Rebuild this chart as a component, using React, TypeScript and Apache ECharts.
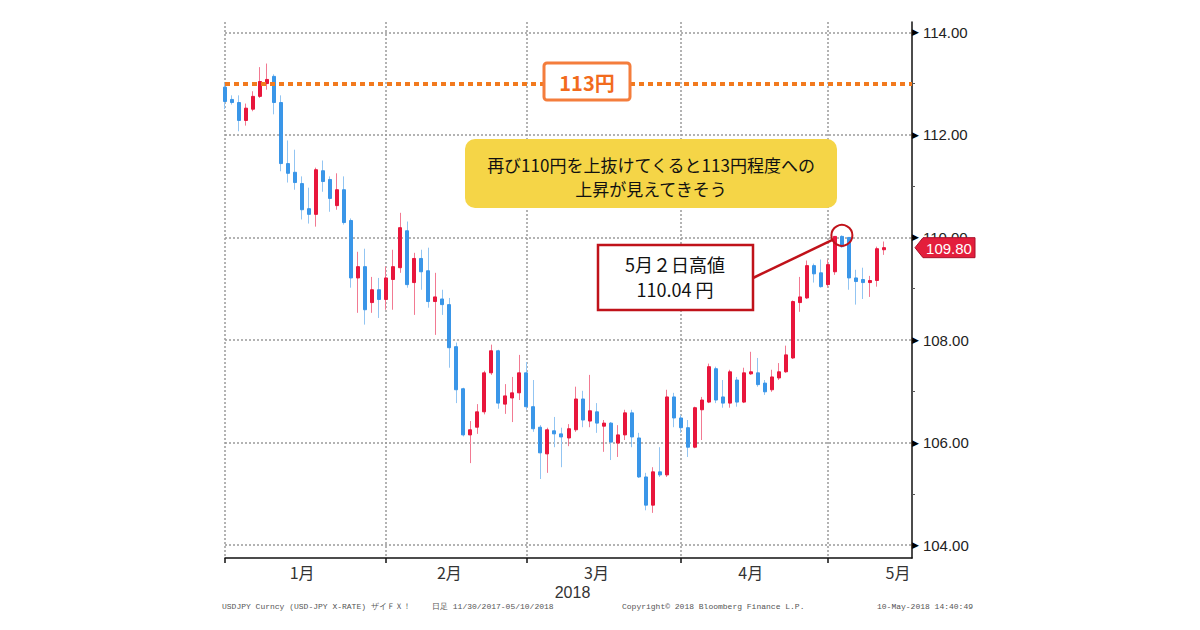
import React, { useEffect, useRef } from "react";
import * as echarts from "echarts";

// ---- categories (weekdays of 2018, by month) ----
const janDays = [1, 2, 3, 4, 5, 8, 9, 10, 11, 12, 15, 16, 17, 18, 19, 22, 23, 24, 25, 26, 29, 30, 31];
const febDays = [1, 2, 5, 6, 7, 8, 9, 12, 13, 14, 15, 16, 19, 20, 21, 22, 23, 26, 27, 28];
const marDays = [1, 2, 5, 6, 7, 8, 9, 12, 13, 14, 15, 16, 19, 20, 21, 22, 23, 26, 27, 28, 29, 30];
const aprDays = [2, 3, 4, 5, 6, 9, 10, 11, 12, 13, 16, 17, 18, 19, 20, 23, 24, 25, 26, 27, 30];
const mayDays = [1, 2, 3, 4, 7, 8, 9, 10, 11, 14, 15, 16, 17];
const monthNames = ["1月", "2月", "3月", "4月", "5月"];
const monthFullWeekdays = [23, 20, 22, 21, 22];

// ---- USD/JPY daily OHLC ----
const openP = [
  112.93, 112.69, 112.63, 112.28, 112.5, 112.75, 113.0, 113.14, 112.63, 111.44,
  111.27, 111.05, 110.56, 110.45, 111.3, 111.13, 110.62, 110.93, 110.33, 109.21,
  109.43, 108.73, 108.98, 108.79, 109.18, 109.41, 110.13, 109.12, 109.59, 109.35,
  108.75, 108.8, 108.69, 107.87, 107.05, 106.15, 106.3, 106.6, 107.36, 107.79,
  106.75, 106.87, 106.97, 107.36, 106.7, 106.3, 105.78, 106.23, 106.17, 106.09,
  106.25, 106.85, 106.42, 106.6, 106.32, 106.38, 105.99, 106.15, 106.58, 106.09,
  105.33, 104.78, 105.43, 105.37, 106.89, 106.48, 106.29, 105.91, 106.64, 106.79,
  107.44, 106.89, 106.77, 107.22, 106.79, 107.34, 107.36, 107.16, 107.03, 107.26,
  107.38, 107.65, 108.73, 108.82, 109.45, 109.31, 109.08, 109.33, 110.02, 110.0,
  109.21, 109.18, 109.12, 109.16, 109.76,
];
const closeP = [
  112.65, 112.63, 112.28, 112.52, 112.75, 113.04, 113.08, 112.63, 111.44, 111.25,
  111.07, 110.54, 110.45, 111.32, 111.09, 110.76, 110.93, 110.29, 109.21, 109.43,
  108.59, 108.98, 108.79, 109.21, 109.43, 110.19, 109.08, 109.59, 109.33, 108.75,
  108.84, 108.69, 107.85, 107.03, 106.15, 106.25, 106.6, 107.36, 107.79, 106.77,
  106.91, 106.97, 107.36, 106.7, 106.27, 105.8, 106.25, 106.17, 106.11, 106.27,
  106.85, 106.44, 106.62, 106.38, 106.38, 106.01, 106.15, 106.58, 106.11, 105.33,
  104.78, 105.43, 105.37, 106.89, 106.48, 106.29, 105.91, 106.68, 106.83, 107.48,
  106.83, 106.77, 107.38, 106.79, 107.36, 107.38, 107.13, 106.99, 107.28, 107.38,
  107.71, 108.75, 108.84, 109.45, 109.29, 109.04, 109.47, 110.02, 109.82, 109.21,
  109.14, 109.12, 109.16, 109.78, 109.8,
];
const lowP = [
  112.5, 112.59, 112.07, 112.18, 112.46, 112.72, 112.88, 112.4, 111.29, 111.07,
  110.93, 110.35, 110.27, 110.21, 110.89, 110.5, 110.54, 110.25, 109.02, 108.53,
  108.3, 108.53, 108.43, 108.59, 108.59, 109.31, 109.02, 108.49, 108.98, 108.63,
  108.1, 108.49, 107.46, 106.77, 106.12, 105.6, 106.17, 106.55, 107.32, 106.66,
  106.56, 106.4, 106.83, 106.64, 106.21, 105.29, 105.41, 105.91, 105.52, 105.93,
  106.21, 106.3, 106.3, 106.19, 105.82, 105.66, 105.72, 106.05, 105.91, 105.31,
  104.68, 104.63, 105.33, 105.33, 106.3, 106.19, 105.72, 105.89, 106.05, 106.77,
  106.77, 106.68, 106.68, 106.7, 106.77, 107.32, 107.09, 106.93, 106.99, 107.22,
  107.36, 107.63, 108.55, 108.8, 109.12, 109.02, 109.02, 109.27, 109.8, 108.98,
  108.69, 108.8, 108.84, 109.04, 109.66,
];
const highP = [
  113.0, 112.77, 112.77, 112.61, 112.85, 113.32, 113.39, 113.18, 112.77, 111.89,
  111.71, 111.19, 110.97, 111.36, 111.5, 111.19, 111.25, 111.19, 110.37, 109.72,
  109.78, 109.23, 109.21, 109.43, 109.76, 110.48, 110.31, 109.7, 109.76, 109.8,
  109.31, 108.98, 108.82, 107.95, 107.07, 106.42, 106.75, 107.4, 107.91, 107.81,
  107.14, 107.28, 107.71, 107.57, 107.22, 106.34, 106.29, 106.5, 106.29, 106.36,
  107.09, 107.01, 107.32, 106.77, 106.44, 106.4, 106.34, 106.64, 106.64, 106.19,
  105.41, 105.52, 105.91, 107.03, 106.97, 106.54, 106.44, 106.7, 106.89, 107.54,
  107.48, 107.22, 107.42, 107.28, 107.46, 107.77, 107.65, 107.22, 107.42, 107.55,
  107.89, 108.77, 109.23, 109.55, 109.49, 109.57, 109.57, 110.02, 110.04, 109.98,
  109.37, 109.41, 109.25, 109.82, 109.92,
];

const yMajorTicks = [104, 106, 108, 110, 112, 114];
const yMinorTicks = [105, 107, 109, 111, 113];
const targetLevel = 113;
const highIndex = 88;
const highValue = 110.04;

const footerLeft = "USDJPY Curncy (USD-JPY X-RATE) ザイＦＸ！";
const footerRange = "日足 11/30/2017-05/10/2018";
const footerCopy = "Copyright© 2018 Bloomberg Finance L.P.";
const footerTime = "10-May-2018 14:40:49";

const UP = "#e8163c";
const DOWN = "#3a96e8";
const UP_WICK = "#f27a92";
const DOWN_WICK = "#93c5f2";
const JP = "'Noto Sans CJK JP', sans-serif";

export default function App() {
  const ref = useRef<HTMLDivElement>(null);

  useEffect(() => {
    if (!ref.current) return;
    const chart = echarts.init(ref.current, null, { renderer: "svg" });

    const monthLists = [janDays, febDays, marDays, aprDays, mayDays];
    const dates: string[] = [];
    const monthStarts: number[] = [];
    monthLists.forEach((days, m) => {
      monthStarts.push(dates.length);
      days.forEach((d) => dates.push(`2018/${m + 1}/${d}`));
    });
    const labelAt: Record<number, string> = {};
    monthStarts.forEach((s, m) => {
      labelAt[Math.floor(s + monthFullWeekdays[m] / 2 - 0.5)] = monthNames[m];
    });
    const startSet = new Set(monthStarts);

    const wickData = openP.map((o, i) => [o, closeP[i], lowP[i], highP[i]]);
    const bodyData = openP.map((o, i) => [o, closeP[i], Math.min(o, closeP[i]), Math.max(o, closeP[i])]);

    const gridLine = { color: "#9a9a9a", type: [2, 2] as any, width: 1.5 };

    chart.setOption({
      animation: false,
      backgroundColor: "#ffffff",
      grid: { left: 225, right: 288, top: 22, bottom: 72 },
      xAxis: {
        type: "category",
        data: dates,
        boundaryGap: false,
        name: "2018",
        nameLocation: "middle",
        nameGap: 25,
        nameTextStyle: { fontSize: 16, color: "#333", fontFamily: "'Liberation Sans', sans-serif", padding: [0, 0, 0, 8] },
        axisLine: { lineStyle: { color: "#111", width: 1.5 } },
        axisTick: { show: true, interval: (i: number) => startSet.has(i), length: 5, lineStyle: { color: "#111", width: 1.5 } },
        axisLabel: {
          interval: (i: number) => labelAt[i] !== undefined,
          formatter: (_v: string, i: number) => labelAt[i] || "",
          fontSize: 16,
          color: "#333",
          fontFamily: JP,
          margin: 6,
        },
        splitLine: { show: true, interval: (i: number) => startSet.has(i), lineStyle: gridLine },
      },
      yAxis: [
        {
          type: "value",
          position: "right",
          min: 103.75,
          max: 114.2,
          scale: true,
          axisLine: { show: true, lineStyle: { color: "#111", width: 1.5 } },
          axisTick: { show: true, customValues: yMajorTicks, length: 2, lineStyle: { color: "#111" } },
          axisLabel: {
            customValues: yMajorTicks,
            margin: 0,
            formatter: (v: number) => `{t|▶}{v|${v.toFixed(2)}}`,
            rich: {
              t: { fontSize: 9, color: "#000", fontFamily: "'DejaVu Sans'", padding: [0, 4, 0, 0] },
              v: { fontSize: 15, color: "#222", fontFamily: "'Liberation Sans', sans-serif" },
            },
          },
          splitLine: { show: true, lineStyle: gridLine },
        },
        {
          type: "value",
          position: "right",
          min: 103.75,
          max: 114.2,
          axisLine: { show: false },
          axisTick: { show: true, customValues: yMinorTicks, length: 3, lineStyle: { color: "#555" } },
          axisLabel: { show: false },
          splitLine: { show: false },
        },
      ],
      series: [
        {
          type: "candlestick",
          name: "wick",
          data: wickData,
          barWidth: 1,
          clip: false,
          z: 2,
          itemStyle: { color: UP_WICK, color0: DOWN_WICK, borderColor: UP_WICK, borderColor0: DOWN_WICK, borderWidth: 1 },
          markLine: {
            silent: true,
            symbol: "none",
            z: 4,
            label: { show: false },
            lineStyle: { color: "#f27a1e", width: 4, type: [5, 4] },
            data: [{ yAxis: targetLevel }],
          },
        },
        {
          type: "candlestick",
          name: "body",
          data: bodyData,
          barWidth: 3.5,
          clip: false,
          z: 3,
          itemStyle: { color: UP, color0: DOWN, borderColor: UP, borderColor0: DOWN, borderWidth: 1 },
          markPoint: {
            silent: true,
            symbol: "circle",
            symbolSize: 21,
            label: { show: false },
            itemStyle: { color: "rgba(0,0,0,0)", borderColor: "#c0121a", borderWidth: 2 },
            data: [{ coord: [dates[highIndex], highValue] }],
          },
        },
      ],
    });

    // annotations placed through the chart's own scales
    const [cx, cy] = chart.convertToPixel({ seriesIndex: 1 }, [highIndex, highValue]) as number[];
    const lastClose = closeP[closeP.length - 1];
    const tagY = chart.convertToPixel({ yAxisIndex: 0 }, lastClose) as number;
    const axisX = 1200 - 288;

    const boxX = 598, boxY = 245, boxW = 155, boxH = 65;
    const sx = boxX + boxW, sy = boxY + 33;
    const dx = sx - cx, dy = sy - cy;
    const dl = Math.sqrt(dx * dx + dy * dy);
    const ex = cx + (dx / dl) * 10.5, ey = cy + (dy / dl) * 10.5;

    chart.setOption({
      graphic: [
        // 113円 tag on the orange line
        {
          type: "rect",
          z: 100,
          shape: { x: 544, y: 63, width: 86, height: 37, r: 3 },
          style: { fill: "#ffffff", stroke: "#f47d3c", lineWidth: 3 },
        },
        {
          type: "text",
          z: 101,
          x: 587,
          y: 82,
          style: { text: "113円", fill: "#f26b1d", font: `bold 20px ${JP}`, align: "center", verticalAlign: "middle" },
        },
        // yellow comment box
        {
          type: "rect",
          z: 100,
          shape: { x: 465, y: 139, width: 372, height: 69, r: 10 },
          style: { fill: "#f5d547" },
        },
        {
          type: "text",
          z: 101,
          x: 651,
          y: 164,
          style: { text: "再び110円を上抜けてくると113円程度への", fill: "#111", font: `17px ${JP}`, align: "center", verticalAlign: "middle" },
        },
        {
          type: "text",
          z: 101,
          x: 651,
          y: 188,
          style: { text: "上昇が見えてきそう", fill: "#111", font: `17px ${JP}`, align: "center", verticalAlign: "middle" },
        },
        // red box with connector
        {
          type: "line",
          z: 100,
          shape: { x1: sx, y1: sy, x2: ex, y2: ey },
          style: { stroke: "#c0121a", lineWidth: 2.5 },
        },
        {
          type: "rect",
          z: 100,
          shape: { x: boxX, y: boxY, width: boxW, height: boxH },
          style: { fill: "#ffffff", stroke: "#c0121a", lineWidth: 2.5 },
        },
        {
          type: "text",
          z: 101,
          x: 675,
          y: 264,
          style: { text: "5月２日高値", fill: "#111", font: `18px ${JP}`, align: "center", verticalAlign: "middle" },
        },
        {
          type: "text",
          z: 101,
          x: 675,
          y: 289,
          style: { text: "110.04 円", fill: "#111", font: `18px ${JP}`, align: "center", verticalAlign: "middle" },
        },
        // last price tag
        {
          type: "polygon",
          z: 100,
          shape: {
            points: [
              [axisX + 3, tagY],
              [axisX + 11, tagY - 10],
              [axisX + 63, tagY - 10],
              [axisX + 63, tagY + 10],
              [axisX + 11, tagY + 10],
            ],
          },
          style: { fill: "#e31e3c", stroke: "#a8102a", lineWidth: 1 },
        },
        {
          type: "text",
          z: 101,
          x: axisX + 37,
          y: tagY + 1,
          style: { text: lastClose.toFixed(2), fill: "#ffffff", font: "15px 'Liberation Sans', sans-serif", align: "center", verticalAlign: "middle" },
        },
        // footer
        {
          type: "text",
          x: 222,
          y: 606,
          style: { text: footerLeft, fill: "#555", font: "8px 'Liberation Mono', monospace", verticalAlign: "middle" },
        },
        {
          type: "text",
          x: 432,
          y: 606,
          style: { text: footerRange, fill: "#555", font: "8px 'Liberation Mono', monospace", verticalAlign: "middle" },
        },
        {
          type: "text",
          x: 622,
          y: 606,
          style: { text: footerCopy, fill: "#555", font: "8px 'Liberation Mono', monospace", verticalAlign: "middle" },
        },
        {
          type: "text",
          x: 877,
          y: 606,
          style: { text: footerTime, fill: "#555", font: "8px 'Liberation Mono', monospace", verticalAlign: "middle" },
        },
      ],
    });

    return () => chart.dispose();
  }, []);

  return (
    <div
      ref={ref}
      style={{ position: "fixed", left: 0, top: 0, width: 1200, height: 630, background: "#ffffff" }}
    />
  );
}
